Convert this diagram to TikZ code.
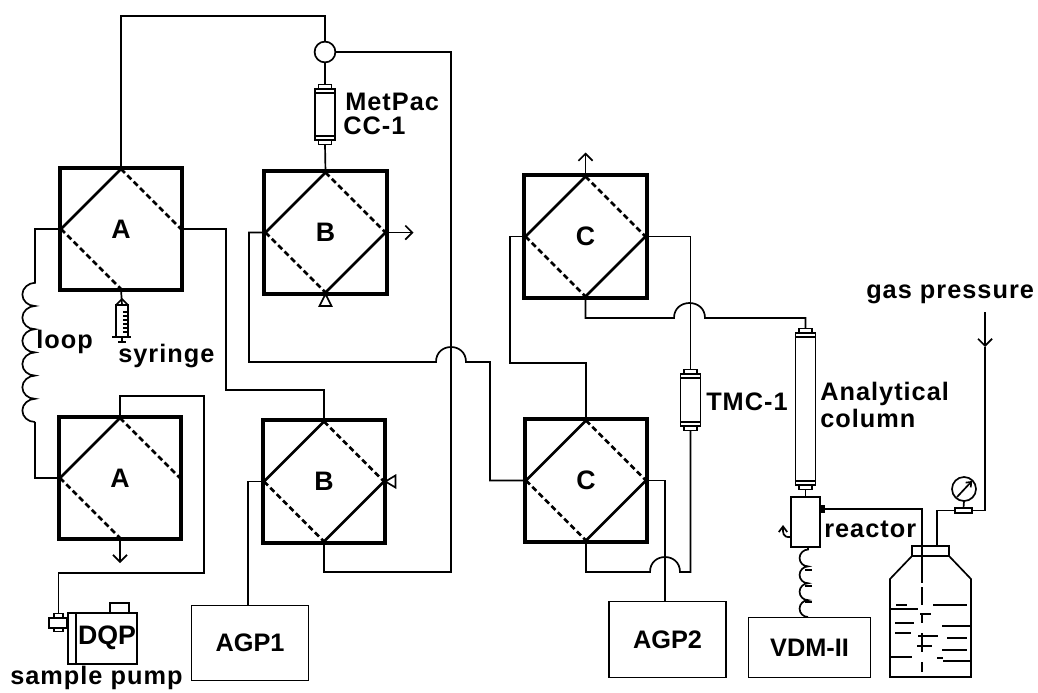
\documentclass[tikz,border=0pt]{standalone}
\usepackage{fontspec}
\setmainfont{Liberation Sans}
\newfontfamily\lblfont[LetterSpace=4.0]{Liberation Sans}
\usetikzlibrary{decorations.pathmorphing,positioning,arrows.meta}
\tikzset{
  pipe/.style={line width=1.2pt},
  openend/.style={pipe, -{Straight Barb[length=5pt,width=10pt]}},
  coil/.style={pipe, decorate, decoration={bumps, amplitude=#1, segment length=33pt}},
  coil/.default=9pt,
  valve/.style={draw, line width=2.8pt, minimum size=3.07cm, inner sep=0pt, outer sep=0pt, font=\fontsize{19}{20}\selectfont\bfseries},
  seat/.style={line width=1.8pt},
  seatopen/.style={line width=1.8pt, dash pattern=on 4pt off 2.4pt},
  unit/.style={draw, line width=1.2pt, inner sep=0pt, outer sep=0pt, font=\fontsize{18}{20}\selectfont\bfseries},
  column/.style={unit, minimum width=0.5cm},
  endcap/.style={unit, minimum width=0.33cm, minimum height=0.11cm},
  lbl/.style={anchor=base west, inner sep=0pt, font=\lblfont\fontsize{18}{20}\selectfont\bfseries}
}
\newcommand{\valvebox}[4]{
  \node[valve] (#1) at (#2,#3) {#4};
  \path (#1.center) ++(0,-60) coordinate (#1-n) ++(0,120) coordinate (#1-s);
  \path (#1.center) ++(-60,0) coordinate (#1-w) ++(120,0) coordinate (#1-e);
  \draw[seat] (#1-n) -- (#1-w);
  \draw[seatopen] (#1-n) -- (#1-e);
  \draw[seatopen] (#1-w) -- (#1-s);
}
\newcommand{\colbox}[4]{
  \node[column, minimum height=#4 cm] (#1) at (#2,#3) {};
  \node[endcap, above=0pt of #1] (#1-t) {};
  \node[endcap, below=0pt of #1] (#1-b) {};
  \draw[pipe] (#1.north west) ++(0,4) -- ++(20,0);
  \draw[pipe] (#1.south west) ++(0,-4) -- ++(20,0);
}
\begin{document}
\begin{tikzpicture}[x=0.025cm,y=-0.025cm]
  \useasboundingbox (0,0) rectangle (1038,692);

  \valvebox{aa1}{121}{229}{A}
  \valvebox{aa2}{120}{478}{A}
  \valvebox{bb1}{325.5}{232.5}{B}
  \valvebox{bb2}{324}{481.5}{B}
  \valvebox{cc1}{585.5}{236.5}{C}
  \valvebox{cc2}{586}{480.5}{C}
  \foreach \vv in {bb1,bb2,cc1,cc2}
    \draw[seat] (\vv-s) -- (\vv-e);

  \node[draw, pipe, circle, minimum size=0.52cm, inner sep=0pt, outer sep=0pt] (ring) at (325,52) {};
  \colbox{metpac}{325}{114.5}{1.275}
  \colbox{tmc}{690.5}{400}{1.3}
  \colbox{anal}{805.5}{409}{3.8}

  \node[unit, minimum width=2.92cm, minimum height=1.87cm] (agpa) at (250,643) {AGP1};
  \node[unit, minimum width=2.92cm, minimum height=1.9cm] (agpb) at (667.5,639.5) {AGP2};
  \node[unit, minimum width=3.05cm, minimum height=1.5cm] (vdm) at (809.5,647.5) {VDM-II};
  \node[unit, minimum width=1.72cm, minimum height=1.27cm] (dqp) at (102.5,638.5) {};
  \node[unit, minimum width=0.47cm, minimum height=0.25cm] (dqpkey) at (119.5,608) {};
  \node[unit, minimum width=0.22cm, minimum height=0.45cm] (dqpneck) at (58.5,622.5) {};
  \node[unit, fill=white, minimum width=0.45cm, minimum height=0.24cm] (dqpport) at (58,623) {};
  \node[inner sep=0pt, font=\fontsize{19}{20}\selectfont\bfseries] (dqptxt) at (107,638) {DQP};
  \draw[pipe] (76,613) -- (76,664);

  \node[unit, minimum width=0.72cm, minimum height=1.25cm] (reactor) at (805.5,522) {};
  \node[unit, fill=black, minimum width=0.09cm, minimum height=0.16cm] (nipple) at (822,509) {};
  \node[unit, minimum width=0.92cm, minimum height=0.25cm] (bottlecap) at (930.5,551) {};
  \node[draw, pipe, circle, minimum size=0.6cm, inner sep=0pt, outer sep=0pt] (gauge) at (964,489) {};
  \node[unit, minimum width=0.44cm, minimum height=0.13cm] (gaugeblock) at (963.5,510.5) {};
  \node[unit, minimum width=0.3cm, minimum height=0.8cm] (syr) at (122,321) {};

  \draw[pipe] (aa1-n) -- (aa1-n |- 0,16) -| (ring.north);
  \draw[pipe] (ring.south) -- (metpac-t.north);
  \draw[pipe] (metpac-b.south) -- (bb1-n);
  \draw[pipe] (ring.east) -| (451,572) -| (bb2-s);
  \draw[pipe] (aa1-w) -| (35,279);
  \draw[coil] (35,422) -- (35,279);
  \draw[pipe] (35,422) |- (aa2-w);
  \draw[pipe] (aa1-e) -| (226,390) -| (bb2-n);
  \draw[pipe] (bb1-w) -| (249,362) -- (436,362) .. controls (436,342) and (466,342) .. (466,362) -- (490,362) |- (cc2-w);
  \draw[openend] (bb1-e) -- ++(28,0);
  \draw[pipe] (bb1.south) -- ++(6,12) -- ++(-12,0) -- cycle;
  \draw[pipe] (bb2.east) -- ++(10,-6) -- ++(0,12) -- cycle;
  \draw[pipe] (aa1-s) -- (syr.north);
  \draw[pipe] (aa2-n) |- (204,396) -- (204,573) -| (dqpneck.north);
  \draw[openend] (aa2-s) -- ++(0,25);
  \draw[pipe] (bb2-w) -| (agpa.north -| 248,0);
  \draw[openend] (cc1-n) -- ++(0,-24);
  \draw[pipe] (cc1-w) -| (510,363) -| (cc2-n);
  \draw[pipe] (cc1-e) -| (tmc-t.north);
  \draw[pipe] (tmc-b.south) |- (680,572) .. controls (680,552) and (650,552) .. (650,572) -| (cc2-s);
  \draw[pipe] (cc2-e) -| (agpb.north -| 665,0);
  \draw[pipe] (cc1-s) |- (674,318) .. controls (674,298) and (705,298) .. (705,318) -| (anal-t.north);
  \draw[pipe] (anal-b.south) -- (reactor.north);
  \draw[coil=6pt, decoration={segment length=24pt}] (808,617) -- (808,547);
  \foreach \yy in {570,586,602}
    \draw[pipe] (805,\yy) -- (812,\yy);
  \draw[pipe, -{Straight Barb[length=4pt,width=6pt]}] (reactor.west |- 0,537) .. controls (782,538) and (783,532) .. (783,525);
  \draw[pipe] (nipple.east) -| (922,583);

  \coordinate (gasin) at (985,312);
  \coordinate (gasport) at (937,546);
  \draw[openend] (gasin) -- (985,347);
  \draw[pipe] (985,347) |- (gaugeblock.east);
  \draw[pipe] (gaugeblock.west) -| (gasport);
  \draw[pipe] (gauge.south) -- (gaugeblock.north);
  \draw[pipe, -{Straight Barb[length=3pt,width=5pt]}] (957,497) -- (972,481);

  \draw[pipe] (912,556) -- (890,579) -- (890,677) -- (971,677) -- (971,579) -- (949,556);
  \foreach \yy/\xa/\xb in {605/896/907,605/933/967,609/891/918,614/920/931,623/895/914,626/942/970,633/895/911,636/918/938,638/947/967,646/917/932,650/942/967,657/891/912,658/937/943,661/943/970}
    \draw[pipe] (\xa,\yy) -- (\xb,\yy);
  \foreach \xx/\ya/\yb in {922/587/605,922/613/623,922/633/652,922/662/672}
    \draw[pipe] (\xx,\ya) -- (\xx,\yb);

  \draw[pipe] (116,305) -- (122,299) -- (128,305);
  \foreach \yy in {312,316,...,332}
    \draw[pipe] (123,\yy) -- (128,\yy);
  \draw[pipe] (112,337) -- (131,337);
  \draw[pipe] (122,337) -- (122,342);
  \draw[pipe] (118,342) -- (126,342);

  \node[lbl] (metlbl) at (345,110) {MetPac};
  \node[lbl] (cclbl) at (343,134) {CC-1};
  \node[lbl] (looplbl) at (36,348) {loop};
  \node[lbl] (syrlbl) at (118,362) {syringe};
  \node[lbl] (pumplbl) at (10,684) {sample pump};
  \node[lbl] (tmclbl) at (706,410) {TMC-1};
  \node[lbl] (anallbl) at (820,400) {Analytical};
  \node[lbl] (collbl) at (820,427) {column};
  \node[lbl] (reactlbl) at (824,537) {reactor};
  \node[lbl] (gaslbl) at (866,298) {gas pressure};
\end{tikzpicture}
\end{document}
